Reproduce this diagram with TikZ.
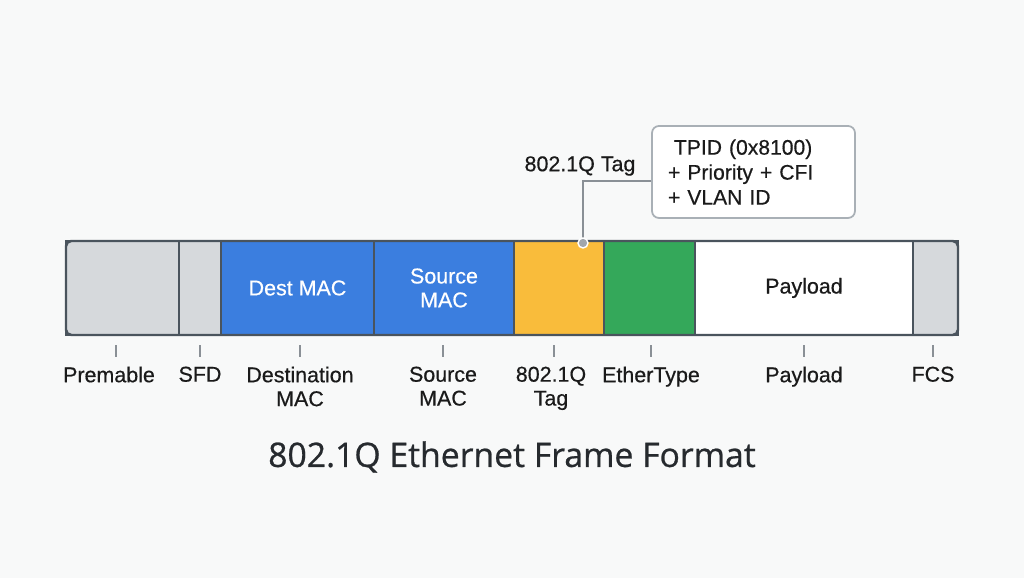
\documentclass[tikz,border=0pt]{standalone}
\usepackage{fontspec}
\setmainfont[FakeBold=0.3]{Liberation Sans}
\newfontfamily\labelfont[FakeBold=0.5]{Liberation Sans}
\newfontfamily\titlefont[FakeBold=0.7]{Open Sans}
\usepackage{xcolor}
\usetikzlibrary{
    positioning,
    calc
}
\definecolor{bgcol}{HTML}{F8F9F9}
\definecolor{framecol}{HTML}{4A545D}
\definecolor{fieldgray}{HTML}{D6D9DC}
\definecolor{fieldblue}{HTML}{3B7EDF}
\definecolor{fieldorange}{HTML}{F9BC3B}
\definecolor{fieldgreen}{HTML}{34A85A}
\definecolor{labcol}{HTML}{1A1A1A}
\definecolor{tickcol}{HTML}{8A9096}
\definecolor{boxcol}{HTML}{A9B0B6}
\definecolor{titlecol}{HTML}{262A2E}
\newcommand{\labfont}{\labelfont\fontsize{12.2}{13.6}\selectfont}

\begin{document}
\begin{tikzpicture}[
    field/.style={draw=framecol, line width=0.6pt, minimum height=1.88cm,
        inner sep=0pt, outer sep=0pt, align=center, font=\labfont},
    lbl/.style={anchor=north, align=center, font=\labfont, text=labcol},
    tickmark/.style={draw=tickcol, line width=0.9pt},
    callline/.style={draw=tickcol, line width=0.9pt}
]
    \fill[bgcol] (0,0) rectangle (20.48,11.56);
    \useasboundingbox (0,0) rectangle (20.48,11.56);

    % frame fields
    \node[field, fill=fieldgray, minimum width=2.26cm, anchor=west] (pre) at (1.32,5.80) {};
    \node[field, fill=fieldgray, minimum width=0.84cm, right=0pt of pre] (sfd) {};
    \node[field, fill=fieldblue, minimum width=3.06cm, right=0pt of sfd, text=white] (dst) {Dest MAC};
    \node[field, fill=fieldblue, minimum width=2.80cm, right=0pt of dst, text=white] (src) {Source\\MAC};
    \node[field, fill=fieldorange, minimum width=1.80cm, right=0pt of src] (tag) {};
    \node[field, fill=fieldgreen, minimum width=1.82cm, right=0pt of tag] (etype) {};
    \node[field, fill=white, minimum width=4.36cm, right=0pt of etype, text=labcol] (pay) {Payload};
    \node[field, fill=fieldgray, minimum width=0.90cm, right=0pt of pay] (fcs) {};
    \draw[framecol, line width=1.4pt, rounded corners=3pt] (pre.north west) rectangle (fcs.south east);

    % labels below
    \node[lbl] (lpre) at (2.18,4.35) {Premable};
    \node[lbl] (lsfd) at (4.00,4.35) {SFD};
    \node[lbl] (ldst) at (6.00,4.35) {Destination\\MAC};
    \node[lbl] (lsrc) at (8.86,4.35) {Source\\MAC};
    \node[lbl] (ltag) at (11.02,4.35) {802.1Q\\Tag};
    \node[lbl] (letype) at (13.02,4.35) {EtherType};
    \node[lbl] (lpay) at (16.08,4.35) {Payload};
    \node[lbl] (lfcs) at (18.66,4.35) {FCS};
    \foreach \n/\dx in {lpre/0.14,lsfd/0,ldst/0,lsrc/0,ltag/0.06,letype/0,lpay/0,lfcs/0}
        \draw[tickmark] ($(\n.north)+(\dx,0.07)$) -- ++(0,0.24);

    % tag callout
    \node[draw=boxcol, line width=1pt, rounded corners=4pt, fill=white,
        text width=3.42cm, inner xsep=0.32cm, minimum height=1.84cm, align=left,
        font=\labelfont\fontsize{12}{14.2}\selectfont, text=labcol] (tpid) at (15.07,8.12)
        {\hspace*{0.12cm}TPID (0x8100)\\+ Priority + CFI\\+ VLAN ID};
    \node[font=\labfont, text=labcol] (taglbl) at (11.60,8.24) {802.1Q Tag};
    \coordinate (pin) at (11.66,6.70);
    \draw[callline] ([yshift=-0.18cm]tpid.west) -| (pin);
    \node[circle, fill=tickcol!80, draw=white, line width=0.8pt,
        minimum size=0.2cm, inner sep=0pt] (dot) at (pin) {};

    \node[font=\titlefont\fontsize{19.2}{23}\selectfont, text=titlecol] (title) at (10.24,2.42)
        {802.1Q Ethernet Frame Format};
\end{tikzpicture}
\end{document}
